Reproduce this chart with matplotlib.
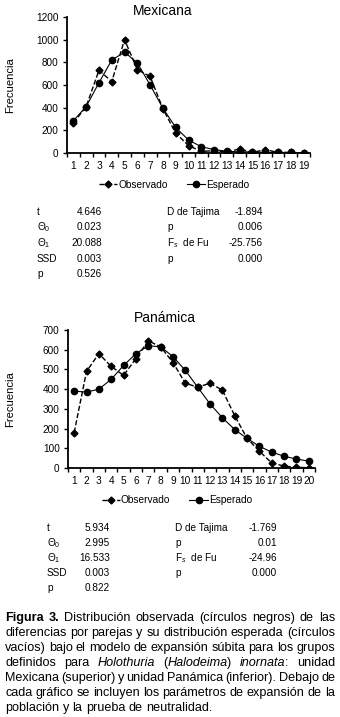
import re
import matplotlib.pyplot as plt
from matplotlib.ticker import FixedLocator

plt.rcParams['font.family'] = ['Liberation Sans', 'DejaVu Sans']
plt.rcParams['mathtext.fontset'] = 'custom'
plt.rcParams['mathtext.rm'] = 'Liberation Sans'
plt.rcParams['mathtext.it'] = 'Liberation Sans:italic'
plt.rcParams['mathtext.bf'] = 'Liberation Sans:bold'

W, H = 340, 717

# Mexicana
mex_x = list(range(1, 20))
mex_obs = [265, 410, 730, 630, 1000, 735, 675, 390, 175, 65, 15, 20, 10, 35, 5, 30, 5, 5, 0]
mex_esp = [285, 410, 620, 820, 890, 795, 600, 395, 225, 115, 55, 30, 15, 10, 10, 5, 5, 5, 3]
mex_yticks = [0, 200, 400, 600, 800, 1000, 1200]
mex_stats_l = [('t', '4.646'), ('Θ$_0$', '0.023'), ('Θ$_1$', '20.088'), ('SSD', '0.003'), ('p', '0.526')]
mex_stats_r = [('D de Tajima', '-1.894'), ('p', '0.006'), ('F$_s$  de Fu', '-25.756'), ('p', '0.000')]

# Panámica
pan_x = list(range(1, 21))
pan_obs = [180, 490, 580, 515, 470, 555, 645, 615, 535, 430, 410, 430, 395, 265, 150, 85, 25, 10, 3, 2]
pan_esp = [390, 385, 400, 450, 520, 580, 620, 615, 565, 495, 410, 325, 255, 195, 150, 110, 80, 60, 45, 35]
pan_yticks = [0, 100, 200, 300, 400, 500, 600, 700]
pan_stats_l = [('t', '5.934'), ('Θ$_0$', '2.995'), ('Θ$_1$', '16.533'), ('SSD', '0.003'), ('p', '0.822')]
pan_stats_r = [('D de Tajima', '-1.769'), ('p', '0.01'), ('F$_s$  de Fu', '-24.96'), ('p', '0.000')]

caption = [
    '<b>Figura 3.</b> Distribución observada (círculos negros) de las',
    'diferencias por parejas y su distribución esperada (círculos',
    'vacíos) bajo el modelo de expansión súbita para los grupos',
    'definidos para <i>Holothuria</i> (<i>Halodeima</i>) <i>inornata</i>: unidad',
    'Mexicana (superior) y unidad Panámica (inferior). Debajo de',
    'cada gráfico se incluyen los parámetros de expansión de la',
    'población y la prueba de neutralidad.',
]

fig = plt.figure(figsize=(W / 100, H / 100), dpi=100)


def px_axes(left, top, right, bottom):
    return fig.add_axes([left / W, 1 - bottom / H, (right - left) / W, (bottom - top) / H])


def draw_chart(ax, x, obs, esp, yticks):
    ax.plot(x, obs, color='black', ls='--', lw=1, marker='D', ms=3.5, label='Observado')
    ax.plot(x, esp, color='black', ls='-', lw=0.8, marker='o', ms=4.5, label='Esperado')
    ax.set_xlim(0.5, len(x) + 0.5)
    ax.set_ylim(0, yticks[-1])
    ax.set_yticks(yticks)
    ax.set_xticks(x)
    ax.set_xticklabels([str(v) for v in x])
    ax.xaxis.set_minor_locator(FixedLocator([v + 0.5 for v in range(len(x) + 1)]))
    ax.tick_params(axis='x', which='major', length=0, labelsize=7.3, pad=6)
    ax.tick_params(axis='x', which='minor', length=3, width=1, direction='out')
    ax.tick_params(axis='y', length=3, width=1, labelsize=7.2, pad=3)
    for s in ['top', 'right']:
        ax.spines[s].set_visible(False)
    for s in ['left', 'bottom']:
        ax.spines[s].set_linewidth(1.3)
    ax.set_ylabel('Frecuencia', fontsize=8.1)
    ax.yaxis.set_label_coords(-0.215, 0.5)
    ax.legend(loc='upper center', bbox_to_anchor=(0.44, -0.13), ncol=2, frameon=False,
              fontsize=7.3, handlelength=1.8, handletextpad=0.1, columnspacing=1.9)


def draw_stats(left_rows, right_rows, y0, step, xl, xlv, xr, xrv):
    for i, (lab, val) in enumerate(left_rows):
        y = 1 - (y0 + i * step) / H
        fig.text(xl / W, y, lab, fontsize=7.2, va='center', ha='left')
        fig.text(xlv / W, y, val, fontsize=7.2, va='center', ha='right')
    for i, (lab, val) in enumerate(right_rows):
        y = 1 - (y0 + i * step) / H
        fig.text(xr / W, y, lab, fontsize=7.2, va='center', ha='left')
        fig.text(xrv / W, y, val, fontsize=7.2, va='center', ha='right')


ax1 = px_axes(67, 17, 310, 153)
draw_chart(ax1, mex_x, mex_obs, mex_esp, mex_yticks)
fig.text(163 / W, 1 - 11 / H, 'Mexicana', fontsize=10, ha='center', va='center')
draw_stats(mex_stats_l, mex_stats_r, 212, 15.5, 37, 102, 167, 263)

ax2 = px_axes(68, 330, 315, 468)
draw_chart(ax2, pan_x, pan_obs, pan_esp, pan_yticks)
fig.text(165 / W, 1 - 318 / H, 'Panámica', fontsize=10, ha='center', va='center')
draw_stats(pan_stats_l, pan_stats_r, 528, 15, 47, 110, 175, 277)


# caption, justified
def parse(line):
    segs = []
    for m in re.finditer(r'<(b|i)>(.*?)</\1>|([^<]+)', line):
        if m.group(3):
            segs.append((m.group(3), 'n'))
        else:
            segs.append((m.group(2), m.group(1)))
    words = [[]]
    for text, st in segs:
        parts = text.split(' ')
        for k, p in enumerate(parts):
            if k > 0:
                words.append([])
            if p:
                words[-1].append((p, st))
    return [w for w in words if w]


cap_fs = 9.05
x0, x1 = 5, 335
renderer = fig.canvas.get_renderer()
tmp1 = fig.text(0, 0, 'x x', fontsize=cap_fs)
tmp2 = fig.text(0, 0, 'xx', fontsize=cap_fs)
space_w = tmp1.get_window_extent(renderer).width - tmp2.get_window_extent(renderer).width
tmp1.remove()
tmp2.remove()

for i, line in enumerate(caption):
    y = 1 - (618 + i * 15) / H
    words = parse(line)
    placed = []
    widths = []
    for w in words:
        segs = []
        ww = 0
        for text, st in w:
            t = fig.text(0, y, text, fontsize=cap_fs, va='center', ha='left',
                         fontweight='bold' if st == 'b' else 'normal',
                         fontstyle='italic' if st == 'i' else 'normal')
            sw = t.get_window_extent(renderer).width
            segs.append((t, sw))
            ww += sw
        placed.append(segs)
        widths.append(ww)
    if i < len(caption) - 1 and len(words) > 1:
        gap = max((x1 - x0 - sum(widths)) / (len(words) - 1), space_w * 0.5)
    else:
        gap = space_w
    x = x0
    for segs, ww in zip(placed, widths):
        for t, sw in segs:
            t.set_x(x / W)
            x += sw
        x += gap

fig.savefig('out.png', dpi=100)
